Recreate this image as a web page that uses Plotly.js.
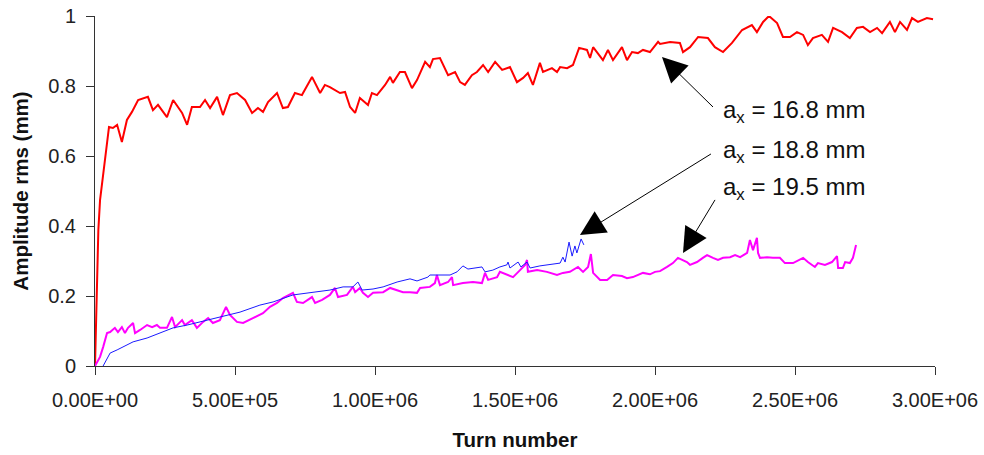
<!DOCTYPE html>
<html>
<head>
<meta charset="utf-8">
<script src="https://cdn.plot.ly/plotly-3.0.1.min.js"></script>
<style>html,body{margin:0;padding:0;background:#fff;}#chart{width:984px;height:455px;}</style>
</head>
<body>
<div id="chart"></div>
<script>
// Series a_x = 16.8 mm (red)
const redX = [0,7000,12000,18000,36000,50000,64000,79000,96000,114000,132000,154000,189000,207000,225000,257000,279000,311000,329000,346000,375000,393000,411000,436000,457000,482000,507000,536000,561000,582000,600000,618000,650000,671000,689000,714000,739000,775000,804000,821000,839000,875000,893000,911000,929000,946000,975000,989000,1007000,1036000,1054000,1064000,1089000,1107000,1132000,1150000,1179000,1196000,1207000,1232000,1261000,1286000,1304000,1321000,1346000,1364000,1386000,1404000,1429000,1454000,1482000,1507000,1529000,1546000,1564000,1589000,1600000,1632000,1650000,1661000,1686000,1707000,1729000,1757000,1768000,1779000,1814000,1832000,1850000,1882000,1900000,1918000,1939000,1957000,1982000,2011000,2018000,2054000,2089000,2100000,2125000,2154000,2189000,2214000,2243000,2275000,2311000,2346000,2364000,2386000,2407000,2436000,2457000,2482000,2507000,2529000,2546000,2564000,2596000,2618000,2636000,2668000,2696000,2721000,2743000,2768000,2793000,2811000,2839000,2857000,2875000,2900000,2918000,2939000,2971000,2993000];
const redY = [0,0.283,0.389,0.474,0.597,0.683,0.680,0.689,0.640,0.703,0.726,0.760,0.769,0.731,0.746,0.711,0.760,0.723,0.689,0.740,0.740,0.760,0.737,0.769,0.717,0.774,0.780,0.760,0.723,0.737,0.726,0.754,0.780,0.737,0.740,0.780,0.774,0.826,0.780,0.803,0.797,0.780,0.783,0.740,0.723,0.766,0.746,0.780,0.774,0.803,0.826,0.809,0.840,0.840,0.794,0.817,0.869,0.854,0.877,0.880,0.831,0.840,0.811,0.803,0.831,0.840,0.860,0.840,0.869,0.846,0.854,0.811,0.823,0.837,0.803,0.866,0.840,0.851,0.840,0.854,0.851,0.860,0.909,0.903,0.880,0.911,0.874,0.903,0.874,0.911,0.874,0.897,0.894,0.903,0.897,0.926,0.920,0.926,0.923,0.897,0.911,0.940,0.937,0.911,0.897,0.923,0.960,0.974,0.954,0.983,1.000,0.980,0.940,0.940,0.954,0.946,0.917,0.937,0.946,0.926,0.966,0.954,0.937,0.966,0.969,0.954,0.966,0.951,0.983,0.954,0.983,0.960,0.994,0.983,0.994,0.991];

// Series a_x = 18.8 mm (blue)
const blueX = [29000,54000,79000,136000,186000,232000,279000,329000,400000,471000,518000,589000,636000,707000,757000,839000,886000,921000,939000,954000,993000,1029000,1079000,1125000,1150000,1189000,1196000,1232000,1268000,1293000,1314000,1332000,1364000,1382000,1393000,1421000,1446000,1471000,1475000,1482000,1511000,1521000,1543000,1554000,1589000,1625000,1661000,1671000,1679000,1693000,1704000,1714000,1721000,1736000,1746000];
const blueY = [0,0.037,0.046,0.069,0.080,0.094,0.109,0.117,0.131,0.146,0.154,0.174,0.183,0.203,0.209,0.217,0.226,0.226,0.240,0.217,0.220,0.226,0.240,0.249,0.243,0.254,0.260,0.260,0.260,0.269,0.286,0.277,0.280,0.283,0.269,0.274,0.283,0.289,0.297,0.280,0.297,0.283,0.297,0.280,0.286,0.289,0.294,0.311,0.297,0.354,0.314,0.343,0.323,0.363,0.346];

// Series a_x = 19.5 mm (magenta)
const magX = [0,18000,29000,43000,54000,71000,82000,96000,107000,118000,136000,143000,161000,186000,204000,221000,232000,257000,275000,286000,311000,321000,346000,364000,386000,404000,421000,446000,468000,482000,507000,529000,564000,600000,625000,650000,671000,707000,721000,743000,775000,786000,811000,839000,857000,868000,900000,921000,929000,946000,957000,975000,993000,1029000,1054000,1079000,1100000,1125000,1150000,1161000,1196000,1214000,1221000,1232000,1261000,1275000,1279000,1314000,1350000,1382000,1393000,1404000,1436000,1446000,1471000,1493000,1518000,1536000,1543000,1546000,1579000,1614000,1650000,1671000,1696000,1725000,1743000,1761000,1771000,1779000,1804000,1829000,1850000,1882000,1900000,1921000,1957000,1982000,2000000,2018000,2043000,2064000,2082000,2096000,2114000,2125000,2150000,2171000,2186000,2207000,2225000,2243000,2268000,2286000,2304000,2329000,2339000,2350000,2364000,2368000,2375000,2400000,2421000,2446000,2464000,2493000,2529000,2546000,2571000,2582000,2607000,2632000,2650000,2654000,2671000,2679000,2696000,2707000,2718000];
const magY = [0,0.026,0.054,0.094,0.097,0.109,0.097,0.111,0.094,0.109,0.123,0.094,0.103,0.117,0.111,0.117,0.109,0.109,0.140,0.111,0.131,0.117,0.131,0.109,0.126,0.137,0.123,0.131,0.169,0.146,0.126,0.123,0.137,0.151,0.169,0.180,0.194,0.209,0.183,0.180,0.197,0.180,0.189,0.203,0.223,0.197,0.203,0.226,0.211,0.223,0.209,0.197,0.209,0.211,0.223,0.217,0.211,0.211,0.209,0.223,0.226,0.237,0.260,0.231,0.240,0.254,0.231,0.237,0.240,0.237,0.266,0.246,0.254,0.269,0.260,0.254,0.274,0.289,0.303,0.269,0.274,0.269,0.260,0.266,0.269,0.283,0.269,0.283,0.320,0.266,0.246,0.246,0.260,0.257,0.251,0.254,0.266,0.262,0.269,0.271,0.283,0.294,0.309,0.303,0.297,0.289,0.297,0.309,0.317,0.309,0.303,0.309,0.311,0.317,0.311,0.323,0.360,0.331,0.366,0.323,0.309,0.311,0.309,0.309,0.294,0.294,0.309,0.297,0.283,0.294,0.289,0.297,0.314,0.280,0.280,0.297,0.294,0.309,0.346];

const xTickVals = [0,500000,1000000,1500000,2000000,2500000,3000000];
const xTickText = ['0.00E+00','5.00E+05','1.00E+06','1.50E+06','2.00E+06','2.50E+06','3.00E+06'];
const yTickVals = [0,0.2,0.4,0.6,0.8,1];
const yTickText = ['0','0.2','0.4','0.6','0.8','1'];

const labels = ['a<sub>x</sub> = 16.8 mm','a<sub>x</sub> = 18.8 mm','a<sub>x</sub> = 19.5 mm'];
const labelX = [2236000,2236000,2236000];
const labelY = [0.726,0.614,0.506];
const arrowTipX = [2025000,1732000,2100000];
const arrowTipY = [0.883,0.374,0.323];
const arrowTail = [[54,53],[134,-83],[35,-58]];

const traces = [
  {x: redX, y: redY, type:'scatter', mode:'lines', line:{color:'#ff0000', width:2}, hoverinfo:'skip'},
  {x: magX, y: magY, type:'scatter', mode:'lines', line:{color:'#ff00ff', width:2}, hoverinfo:'skip'},
  {x: blueX, y: blueY, type:'scatter', mode:'lines', line:{color:'#1a1aff', width:1}, hoverinfo:'skip'}
];

const tickFont = {family:'Liberation Sans, Arial, sans-serif', size:20, color:'#222'};
const titleFont = {family:'Liberation Sans, Arial, sans-serif', size:20.5, color:'#111', weight:'bold'};

const annotations = [];
for (let i = 0; i < labels.length; i++) {
  annotations.push({x: labelX[i], y: labelY[i], xref:'x', yref:'y', text: labels[i], showarrow:false,
    xanchor:'left', yanchor:'middle', font:{family:'Liberation Sans, Arial, sans-serif', size:24, color:'#111'}});
  annotations.push({x: arrowTipX[i], y: arrowTipY[i], xref:'x', yref:'y', text:' ', showarrow:true,
    ax: arrowTail[i][0], ay: arrowTail[i][1], arrowhead:2, arrowsize:5, arrowwidth:1, arrowcolor:'#000', standoff:0});
}

const layout = {
  width:984, height:455,
  margin:{l:95, r:49, t:16, b:89},
  paper_bgcolor:'#fff', plot_bgcolor:'#fff',
  showlegend:false,
  xaxis:{range:[0,3000000], tickvals:xTickVals, ticktext:xTickText, ticks:'outside', ticklen:8, tickwidth:1,
    tickcolor:'#333', showline:true, linecolor:'#333', linewidth:1, showgrid:false, zeroline:false,
    tickfont:tickFont, ticklabelstandoff:8,
    title:{text:'Turn number', font:titleFont, standoff:22}},
  xaxis2:{range:[0,3000000], overlaying:'x', anchor:'y', side:'bottom', tickvals:xTickVals, ticks:'inside', ticklen:6,
    tickwidth:1, tickcolor:'#333', showticklabels:false, showgrid:false, zeroline:false, showline:false},
  yaxis:{range:[0,1], tickvals:yTickVals, ticktext:yTickText, ticks:'outside', ticklen:8, tickwidth:1,
    tickcolor:'#333', showline:true, linecolor:'#333', linewidth:1, showgrid:false, zeroline:false,
    tickfont:tickFont, ticklabelstandoff:6,
    title:{text:'Amplitude rms (mm)', font:titleFont, standoff:14}},
  yaxis2:{range:[0,1], overlaying:'y', anchor:'x', side:'left', tickvals:yTickVals, ticks:'inside', ticklen:5,
    tickwidth:1, tickcolor:'#333', showticklabels:false, showgrid:false, zeroline:false, showline:false},
  annotations: annotations
};

Plotly.newPlot('chart', traces, layout, {staticPlot:true, displayModeBar:false});
</script>
</body>
</html>
